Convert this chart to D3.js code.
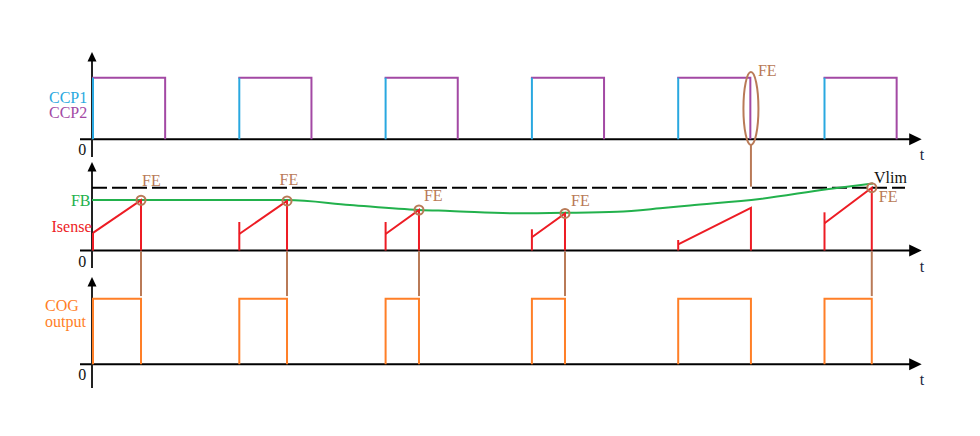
<!DOCTYPE html>
<html>
<head>
<meta charset="utf-8">
<script src="https://cdn.jsdelivr.net/npm/d3@7"></script>
<style>
  html, body { margin: 0; padding: 0; background: #fff; }
  svg { display: block; }
  text { font-family: "Liberation Serif", "DejaVu Serif", serif; font-size: 16px; }
</style>
</head>
<body>
<div id="chart"></div>
<script>
// time in arbitrary units, one PWM period = 10
const cycleStart = [0, 10, 20, 30, 40, 50];
const ccp2Fall = [5, 15, 25, 35, 45, 55];
const feTime = [3.35, 13.33, 22.35, 32.33, 45.04, 53.3];

// Isense per cycle (Vlim = 1)
const isenseSpike = [0.28, 0.454, 0.454, 0.338, 0.167, 0.608];
const isenseStart = [0.28, 0.263, 0.263, 0.21, 0.099, 0.433];
const isenseEnd = [0.8, 0.79, 0.645, 0.59, 0.68, 1.0];
const feOnFB = [true, true, true, true, false, true];

// FB feedback curve
const fbTime = [0, 13.33, 17.63, 22.35, 24.47, 29.05, 32.33, 35.89, 38.83, 40.87, 45.65, 50.23, 53.38];
const fbValue = [0.804, 0.804, 0.725, 0.645, 0.63, 0.592, 0.6, 0.618, 0.672, 0.717, 0.82, 0.975, 1.067];
const vlim = 1.0;
const vlimEnd = 55.57;

// label nudges for the FE tags (px, relative to the FE point)
const feLabelNudge = [[1, -14.5], [-7.5, -16], [5, -9], [6, -7], [7, -52], [7, 14]];

const width = 980, height = 436;
const col = {
  ccp1: "#29a8e0", ccp2: "#a349a4", fb: "#22b14c", isense: "#ed1c24",
  cog: "#ff7f27", fe: "#b97a57", axis: "#000", tlabel: "#1b2540"
};

const svg = d3.select("#chart").append("svg")
  .attr("width", width).attr("height", height);

const x = d3.scaleLinear().domain([0, 60]).range([92, 92 + 60 * 14.63]);
const yTop = d3.scaleLinear().domain([0, 1]).range([139.3, 77.7]);
const yMid = d3.scaleLinear().domain([0, 1]).range([250.5, 187.7]);
const yBot = d3.scaleLinear().domain([0, 1]).range([364.3, 298.7]);

const tAxisStart = -0.82, tAxisTip = 56.71;

function drawAxes(y, lo, hi) {
  const g = svg.append("g");
  const y0 = y(0), xTip = x(tAxisTip), x0 = x(0);
  g.append("line").attr("x1", x(tAxisStart)).attr("x2", xTip - 10)
    .attr("y1", y0).attr("y2", y0)
    .attr("stroke", col.axis).attr("stroke-width", 2);
  g.append("path")
    .attr("d", `M${xTip},${y0} L${xTip - 12.5},${y0 - 6} L${xTip - 12.5},${y0 + 6} Z`)
    .attr("fill", col.axis);
  const yTip = y(hi);
  g.append("line").attr("x1", x0).attr("x2", x0)
    .attr("y1", y(lo)).attr("y2", yTip + 7)
    .attr("stroke", "#222").attr("stroke-width", 2);
  g.append("path")
    .attr("d", `M${x0},${yTip} L${x0 - 4.5},${yTip + 9.5} L${x0 + 4.5},${yTip + 9.5} Z`)
    .attr("fill", col.axis);
  g.append("text").attr("x", x(-0.4)).attr("y", y0 + 16)
    .attr("text-anchor", "end").attr("font-size", 19).attr("fill", "#111").text("0");
  g.append("text").attr("x", xTip - 2).attr("y", y0 + 21)
    .attr("font-size", 18).attr("fill", col.tlabel).text("t");
}

drawAxes(yTop, -0.287, 1.417);
drawAxes(yMid, -0.28, 1.409);
drawAxes(yBot, -0.36, 1.33);

// ---- top panel: CCP1 / CCP2
svg.append("g").selectAll("path")
  .data(cycleStart.map((s, i) => ({ s, f: ccp2Fall[i] })))
  .join("path")
  .attr("d", d => `M${x(d.s)},${yTop(1)} L${x(d.f)},${yTop(1)} L${x(d.f)},${yTop(0)}`)
  .attr("fill", "none").attr("stroke", col.ccp2).attr("stroke-width", 2);

svg.append("g").selectAll("line")
  .data(cycleStart)
  .join("line")
  .attr("x1", d => x(d) + 1).attr("x2", d => x(d) + 1)
  .attr("y1", yTop(0)).attr("y2", yTop(1))
  .attr("stroke", col.ccp1).attr("stroke-width", 2);

svg.append("text").attr("x", 49).attr("y", 102.5).attr("font-size", 15.5)
  .attr("fill", col.ccp1).text("CCP1");
svg.append("text").attr("x", 49).attr("y", 118).attr("font-size", 15.5)
  .attr("fill", col.ccp2).text("CCP2");

// ---- middle panel
svg.append("line")
  .attr("x1", x(0)).attr("x2", x(vlimEnd))
  .attr("y1", yMid(vlim)).attr("y2", yMid(vlim))
  .attr("stroke", "#000").attr("stroke-width", 2).attr("stroke-dasharray", "15,5");

const fbLine = d3.line()
  .x(d => x(d[0])).y(d => yMid(d[1]))
  .curve(d3.curveMonotoneX);
svg.append("path")
  .attr("d", fbLine(fbTime.map((t, i) => [t, fbValue[i]])))
  .attr("fill", "none").attr("stroke", col.fb).attr("stroke-width", 2);

const cycles = cycleStart.map((s, i) => ({
  s, fe: feTime[i], spike: isenseSpike[i], start: isenseStart[i],
  end: isenseEnd[i], onFB: feOnFB[i], nudge: feLabelNudge[i]
}));

const gI = svg.append("g");
gI.selectAll("line.spike")
  .data(cycles)
  .join("line").attr("class", "spike")
  .attr("x1", d => x(d.s) + 1).attr("x2", d => x(d.s) + 1)
  .attr("y1", yMid(0)).attr("y2", d => yMid(d.spike))
  .attr("stroke", col.isense).attr("stroke-width", 2);
gI.selectAll("path.ramp")
  .data(cycles)
  .join("path").attr("class", "ramp")
  .attr("d", d => `M${x(d.s) + 1},${yMid(d.start)} L${x(d.fe)},${yMid(d.end)} L${x(d.fe)},${yMid(0)}`)
  .attr("fill", "none").attr("stroke", col.isense).attr("stroke-width", 2);

svg.append("text").attr("x", 90.5).attr("y", 205.5).attr("text-anchor", "end")
  .attr("fill", col.fb).text("FB");
svg.append("text").attr("x", 51.5).attr("y", 231.5).attr("fill", col.isense)
  .attr("font-size", 15.5).text("Isense");
svg.append("text").attr("x", x(vlimEnd) - 31).attr("y", 183.3).attr("fill", "#111")
  .text("Vlim");

// FE markers
const gFE = svg.append("g");
gFE.selectAll("circle")
  .data(cycles.filter(d => d.onFB))
  .join("circle")
  .attr("cx", d => x(d.fe)).attr("cy", d => yMid(d.end)).attr("r", 4.5)
  .attr("fill", "none").attr("stroke", col.fe).attr("stroke-width", 2);

gFE.selectAll("line.link")
  .data(cycles.filter(d => d.onFB))
  .join("line").attr("class", "link")
  .attr("x1", d => x(d.fe)).attr("x2", d => x(d.fe))
  .attr("y1", yMid(0) + 1).attr("y2", yBot(1.04))
  .attr("stroke", col.fe).attr("stroke-width", 2);

// FE caused by CCP2 falling edge
const ccpFE = cycles.filter(d => !d.onFB);
gFE.selectAll("ellipse")
  .data(ccpFE)
  .join("ellipse")
  .attr("cx", d => x(d.fe)).attr("cy", yTop(0.5)).attr("rx", 7.5).attr("ry", 36.5)
  .attr("fill", "none").attr("stroke", col.fe).attr("stroke-width", 2);
gFE.selectAll("line.top")
  .data(ccpFE)
  .join("line").attr("class", "top")
  .attr("x1", d => x(d.fe)).attr("x2", d => x(d.fe))
  .attr("y1", yTop(0.5) + 36.5).attr("y2", yMid(vlim) - 1)
  .attr("stroke", col.fe).attr("stroke-width", 2);

gFE.selectAll("text")
  .data(cycles)
  .join("text")
  .attr("x", d => x(d.fe) + d.nudge[0])
  .attr("y", d => (d.onFB ? yMid(d.end) : yTop(1)) + d.nudge[1] + (d.onFB ? 0 : 50.5))
  .attr("fill", col.fe).text("FE");

// ---- bottom panel: COG output
svg.append("g").selectAll("path")
  .data(cycles)
  .join("path")
  .attr("d", d => `M${x(d.s) + 1},${yBot(0)} L${x(d.s) + 1},${yBot(1)} L${x(d.fe)},${yBot(1)} L${x(d.fe)},${yBot(0)}`)
  .attr("fill", "none").attr("stroke", col.cog).attr("stroke-width", 2);

svg.append("text").attr("x", 45).attr("y", 311).attr("font-size", 15.5)
  .attr("fill", col.cog).text("COG");
svg.append("text").attr("x", 45).attr("y", 327).attr("font-size", 15.5)
  .attr("fill", col.cog).text("output");
</script>
</body>
</html>
